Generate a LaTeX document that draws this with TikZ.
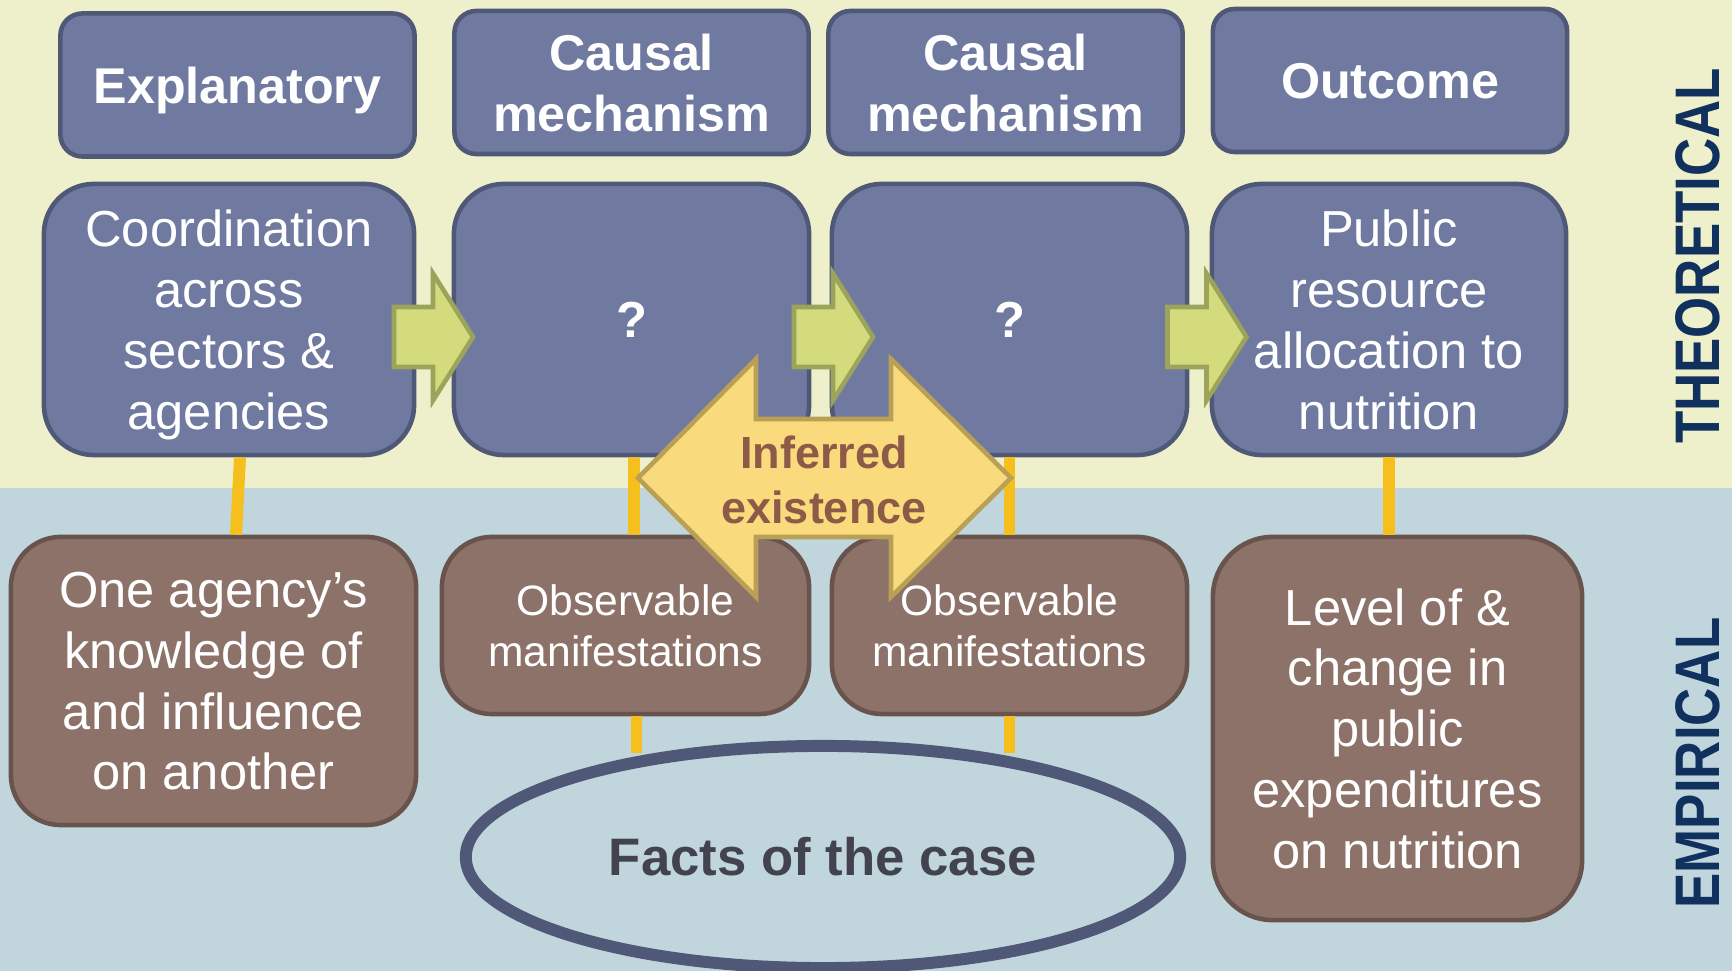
\documentclass[tikz,border=0pt]{standalone}
\usepackage{fontspec}
\setmainfont{Liberation Sans}
\newfontfamily\narrowfont[FakeStretch=0.84]{Liberation Sans}
\usetikzlibrary{positioning,shapes.geometric}

\definecolor{theobg}{HTML}{EEEFCB}
\definecolor{empbg}{HTML}{C0D5DC}
\definecolor{boxfill}{HTML}{707AA0}
\definecolor{boxline}{HTML}{505878}
\definecolor{brownfill}{HTML}{8C7268}
\definecolor{brownline}{HTML}{68544D}
\definecolor{greenfill}{HTML}{D4DB7C}
\definecolor{greenline}{HTML}{9BA45A}
\definecolor{inffill}{HTML}{F9DA7C}
\definecolor{infline}{HTML}{B9A055}
\definecolor{inftext}{HTML}{8E5A48}
\definecolor{barcol}{HTML}{F5C01E}
\definecolor{navy}{HTML}{10305E}
\definecolor{factstext}{HTML}{434350}

\begin{document}
\begin{tikzpicture}[x=0.01cm, y=-0.01cm,
HEAD/.style={rectangle, rounded corners=0.22cm, draw=boxline, fill=boxfill, line width=1.3pt, text=white, align=center, inner sep=0pt, text depth=0pt, minimum width=3.54cm, minimum height=1.43cm, font=\fontsize{14.3}{17.3}\selectfont\bfseries},
THEO/.style={rectangle, rounded corners=0.5cm, draw=boxline, fill=boxfill, line width=1.3pt, text=white, align=center, inner sep=0pt, text depth=0pt, minimum width=3.55cm, minimum height=2.71cm, font=\fontsize{14.4}{17.3}\selectfont},
EMP/.style={rectangle, rounded corners=0.5cm, draw=brownline, fill=brownfill, line width=1.3pt, text=white, align=center, inner sep=0pt, text depth=0pt, font=\fontsize{14.4}{17.3}\selectfont},
OBS/.style={EMP, minimum height=1.77cm, font=\fontsize{12.1}{14.5}\selectfont},
BAR/.style={draw=barcol, line width=3.4pt},
GARR/.pic={\draw[draw=greenline, fill=greenfill, line width=1.3pt] (-40,-30) -- (-1,-30) -- (-1,-63.5) -- (39,0) -- (-1,63.5) -- (-1,30) -- (-40,30) -- cycle;},
SIDE/.style={text=navy, rotate=90, font=\narrowfont\fontsize{17.9}{20}\selectfont\bfseries},
]
%Background
\fill[theobg] (0,0) rectangle (1732,488);
\fill[empbg] (0,488) rectangle (1732,971);
\useasboundingbox (0,0) rectangle (1732,971);

%Nodes
\node[HEAD] (1) at (237.5,85) {Explanatory};
\node[HEAD] (2) at (631.5,82.5) {Causal\\mechanism};
\node[HEAD] (3) at (1005.5,82.5) {Causal\\mechanism};
\node[HEAD] (4) at (1390,80.5) {Outcome};
\node[THEO, minimum width=3.7cm] (5) at (229,319.5) {Coordination\\across\\sectors \&\\agencies};
\node[THEO] (6) at (631.5,319.5) {\textbf{?}};
\node[THEO] (7) at (1009.5,319.5) {\textbf{?}};
\node[THEO, minimum width=3.54cm] (8) at (1389,319.5) {Public\\resource\\allocation to\\nutrition};
\node[EMP, minimum width=4.05cm, minimum height=2.88cm] (9) at (213.5,681) {One agency’s\\knowledge of\\and influence\\on another};
\node[OBS, minimum width=3.67cm] (10) at (625.5,625.5) {Observable\\manifestations};
\node[OBS, minimum width=3.55cm] (11) at (1009.5,625.5) {Observable\\manifestations};
\node[EMP, rounded corners=0.6cm, minimum width=3.69cm, minimum height=3.83cm] (12) at (1397.5,728.5) {Level of \&\\change in\\public\\expenditures\\on nutrition};
\node[ellipse, draw=boxline, line width=3.4pt, minimum width=7.14cm, minimum height=2.22cm, inner sep=0pt, text=factstext, font=\fontsize{15}{18}\selectfont\bfseries] (13) at (823,857) {Facts of the case};

%Lines
\draw[BAR] ([xshift=0.11cm]5.south) -- ([xshift=0.225cm]9.north);
\draw[BAR] ([xshift=0.025cm]6.south) -- ([xshift=0.085cm]10.north);
\draw[BAR] (7.south) -- (11.north);
\draw[BAR] (8.south) -- (8.south |- 12.north);
\draw[BAR, shorten >=-0.13cm] ([xshift=0.11cm]10.south) -- ([xshift=0.11cm]10.south |- 13.north);
\draw[BAR, shorten >=-0.13cm] (11.south) -- (11.south |- 13.north);

%Arrows
\pic at (434,337) {GARR};
\pic at (834,337) {GARR};
\pic at (1207.5,337) {GARR};
\draw[draw=infline, fill=inffill, line width=1.3pt] (638,478) -- (756,359) -- (756,419) -- (891,419) -- (891,359) -- (1011,478) -- (891,597) -- (891,537) -- (756,537) -- (756,597) -- cycle;
\node[text=inftext, align=center, font=\fontsize{12.8}{15.6}\selectfont\bfseries] (14) at (824,480) {Inferred\\existence};

%Side labels
\node[SIDE] (15) at (1698,256) {THEORETICAL};
\node[SIDE] (16) at (1698,763) {EMPIRICAL};
\end{tikzpicture}
\end{document}
